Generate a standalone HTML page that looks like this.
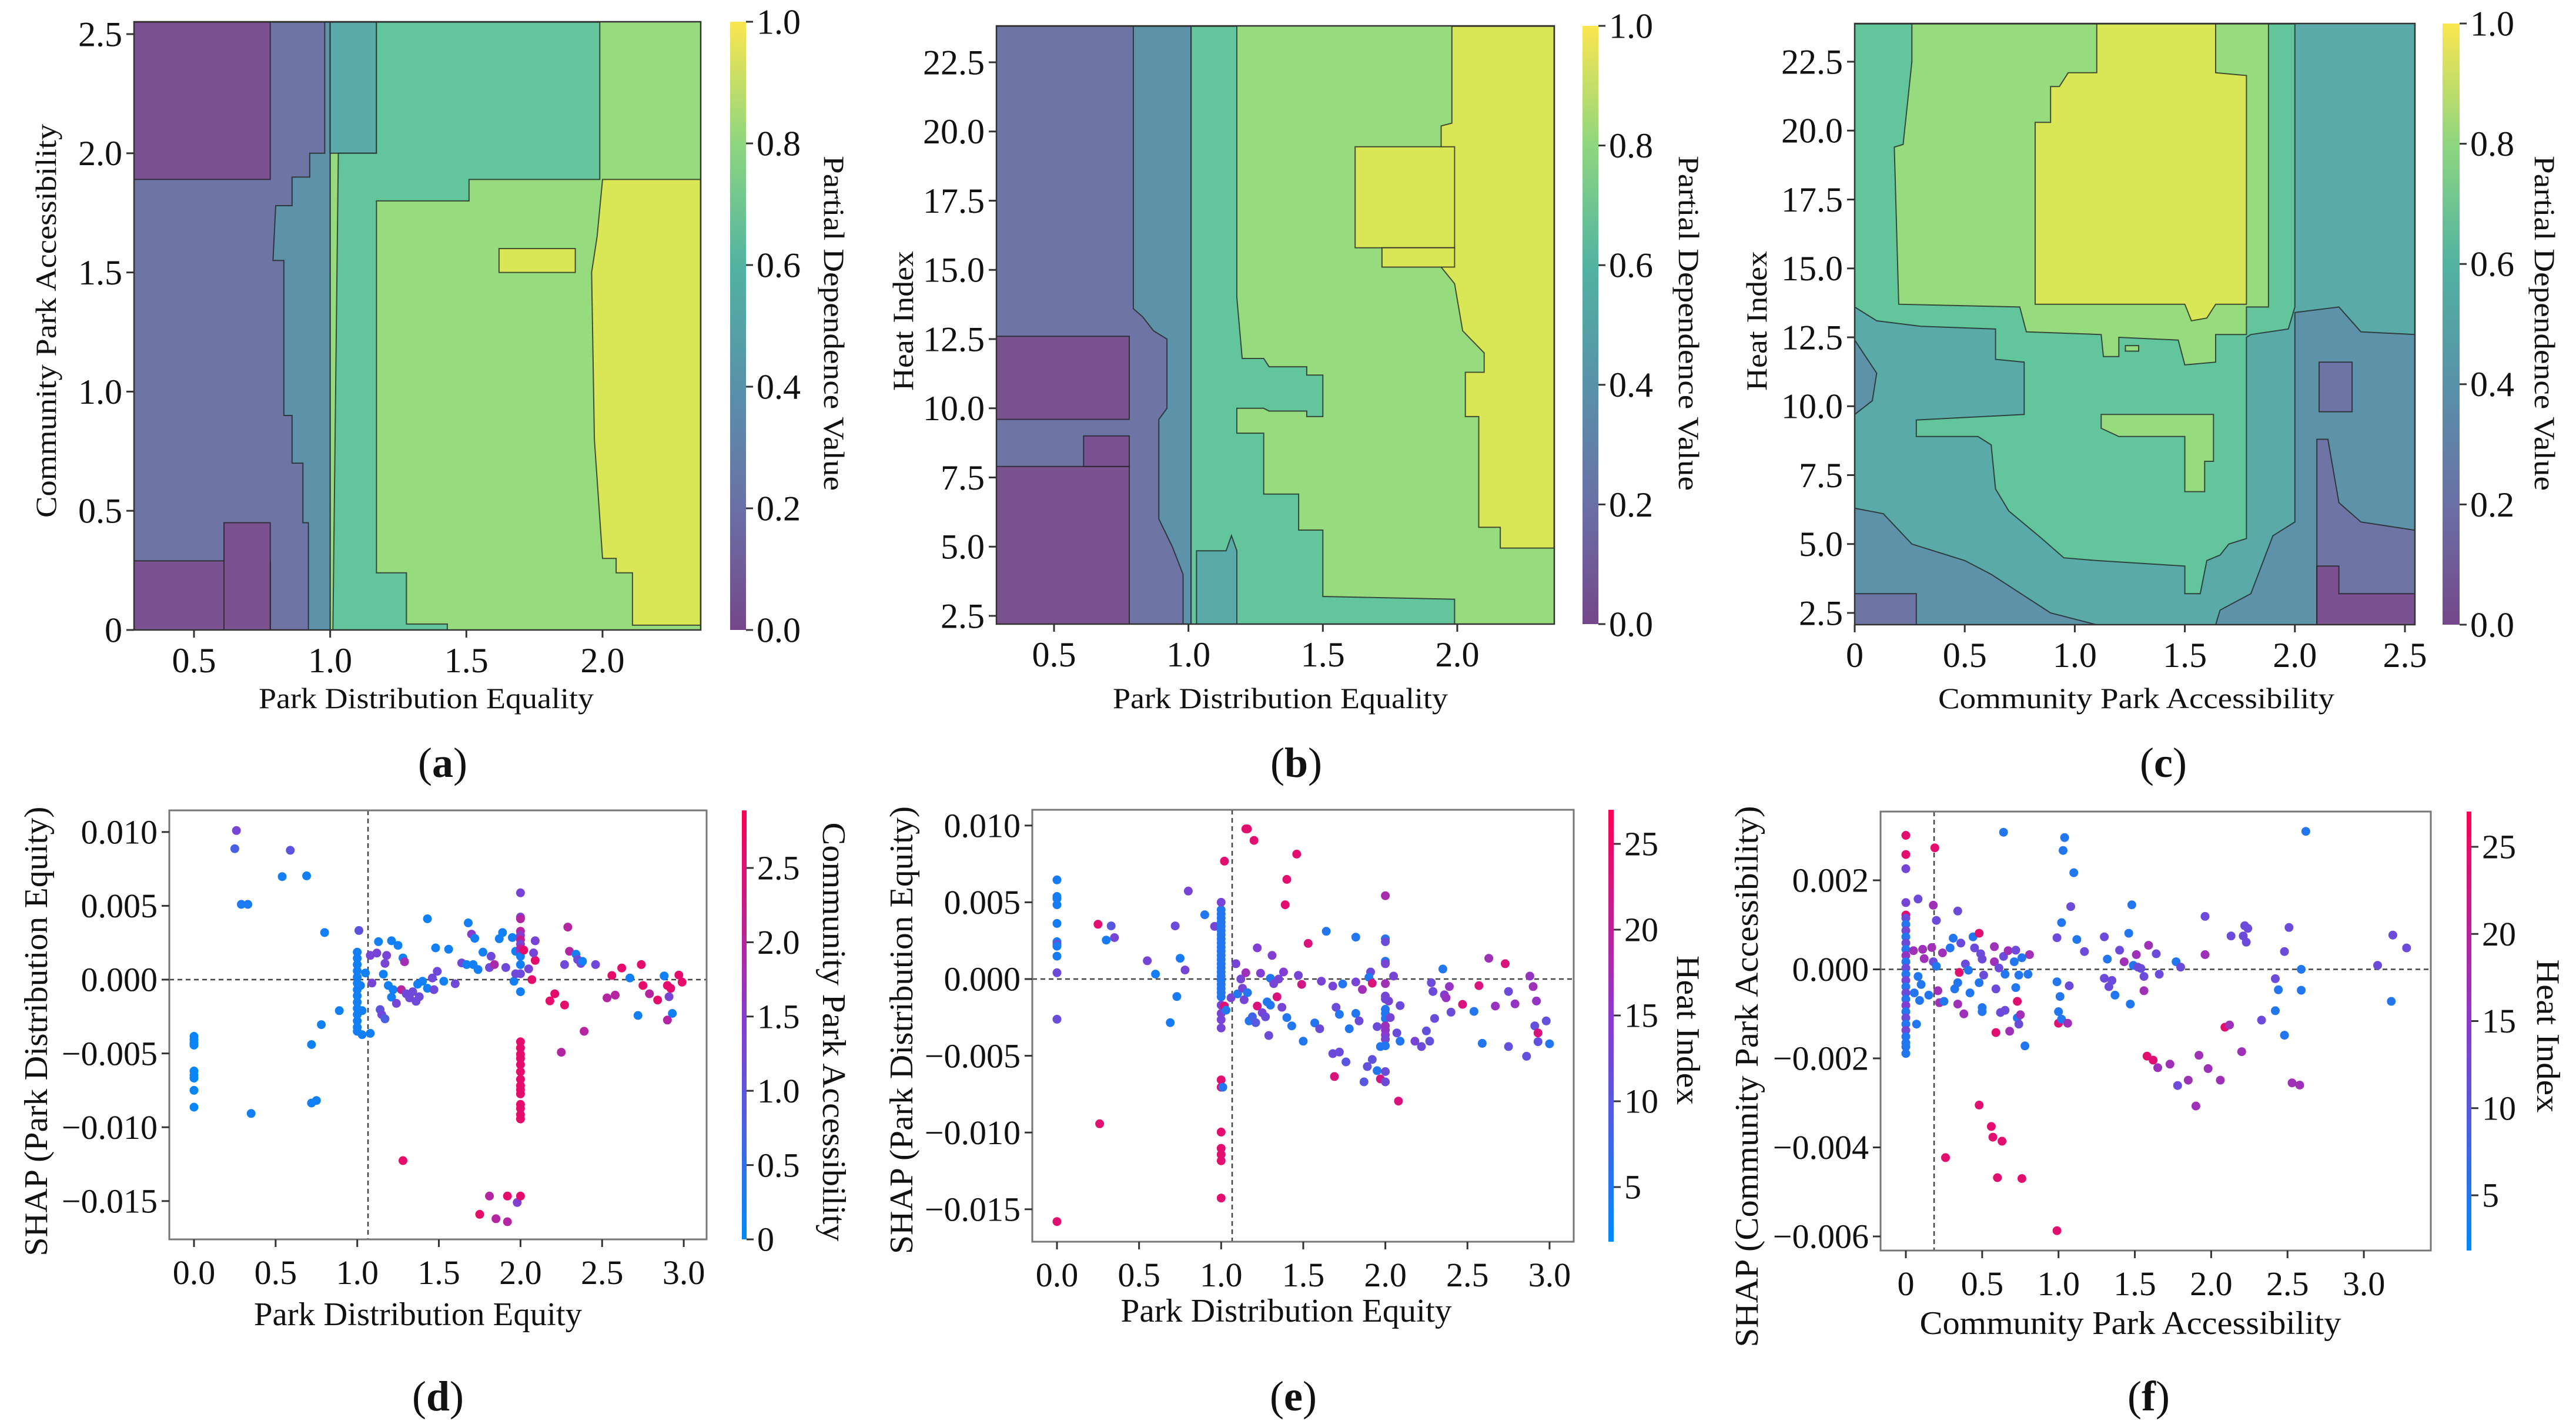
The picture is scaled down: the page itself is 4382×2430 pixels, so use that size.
<!DOCTYPE html>
<html><head><meta charset="utf-8"><style>
html,body{margin:0;padding:0;background:#fff;}
svg{display:block;font-family:"Liberation Serif",serif;}
</style></head><body>
<svg id="fig" xmlns="http://www.w3.org/2000/svg" width="4382" height="2430" viewBox="0 0 4382 2430">
<defs>
<linearGradient id="vir" x1="0" y1="1" x2="0" y2="0">
<stop offset="0" stop-color="#74478a"/><stop offset="0.2" stop-color="#6a70a6"/><stop offset="0.4" stop-color="#5892a9"/><stop offset="0.6" stop-color="#52b3a1"/><stop offset="0.8" stop-color="#8ed67f"/><stop offset="1" stop-color="#fbe64f"/>
</linearGradient>
<linearGradient id="rb" x1="0" y1="1" x2="0" y2="0">
<stop offset="0" stop-color="#008afa"/><stop offset="0.5" stop-color="#863cd2"/><stop offset="1" stop-color="#ff0052"/>
</linearGradient>
<clipPath id="clipA"><rect x="228" y="37" width="964" height="1035"/></clipPath>
<clipPath id="clipB"><rect x="1695" y="44" width="949" height="1018"/></clipPath>
<clipPath id="clipC"><rect x="3155" y="40" width="953" height="1023"/></clipPath>
</defs>
<g id="layer"></g>
<g font-size="50" fill="#111">
<text x="725" y="1205" text-anchor="middle" textLength="570" lengthAdjust="spacingAndGlyphs">Park Distribution Equality</text>
<text transform="translate(95,546) rotate(-90)" text-anchor="middle" textLength="670" lengthAdjust="spacingAndGlyphs">Community Park Accessibility</text>
<text transform="translate(1402,550) rotate(90)" text-anchor="middle" textLength="570" lengthAdjust="spacingAndGlyphs">Partial Dependence Value</text>
<text x="2178" y="1205" text-anchor="middle" textLength="570" lengthAdjust="spacingAndGlyphs">Park Distribution Equality</text>
<text transform="translate(1553,546) rotate(-90)" text-anchor="middle" textLength="238" lengthAdjust="spacingAndGlyphs">Heat Index</text>
<text transform="translate(2856,550) rotate(90)" text-anchor="middle" textLength="570" lengthAdjust="spacingAndGlyphs">Partial Dependence Value</text>
<text x="3634" y="1205" text-anchor="middle" textLength="674" lengthAdjust="spacingAndGlyphs">Community Park Accessibility</text>
<text transform="translate(3005,546) rotate(-90)" text-anchor="middle" textLength="238" lengthAdjust="spacingAndGlyphs">Heat Index</text>
<text transform="translate(4312,550) rotate(90)" text-anchor="middle" textLength="570" lengthAdjust="spacingAndGlyphs">Partial Dependence Value</text>

<text x="711" y="2255" text-anchor="middle" font-size="56" textLength="558" lengthAdjust="spacingAndGlyphs">Park Distribution Equity</text>
<text transform="translate(80,1755) rotate(-90)" text-anchor="middle" font-size="56" textLength="765" lengthAdjust="spacingAndGlyphs">SHAP (Park Distribution Equity)</text>
<text transform="translate(1400,1756) rotate(90)" text-anchor="middle" font-size="56" textLength="713" lengthAdjust="spacingAndGlyphs">Community Park Accessibility</text>
<text x="2188" y="2249" text-anchor="middle" font-size="56" textLength="563" lengthAdjust="spacingAndGlyphs">Park Distribution Equity</text>
<text transform="translate(1552,1753) rotate(-90)" text-anchor="middle" font-size="56" textLength="762" lengthAdjust="spacingAndGlyphs">SHAP (Park Distribution Equity)</text>
<text transform="translate(2853,1753) rotate(90)" text-anchor="middle" font-size="56" textLength="254" lengthAdjust="spacingAndGlyphs">Heat Index</text>
<text x="3624" y="2270" text-anchor="middle" font-size="56" textLength="717" lengthAdjust="spacingAndGlyphs">Community Park Accessibility</text>
<text transform="translate(2990,1832) rotate(-90)" text-anchor="middle" font-size="56" textLength="921" lengthAdjust="spacingAndGlyphs">SHAP (Community Park Accessibility)</text>
<text transform="translate(4316,1763) rotate(90)" text-anchor="middle" font-size="56" textLength="261" lengthAdjust="spacingAndGlyphs">Heat Index</text>
</g>
<g font-size="72" fill="#111" text-anchor="middle">
<text x="753" y="1322">(<tspan font-weight="bold">a</tspan>)</text>
<text x="2205" y="1322">(<tspan font-weight="bold">b</tspan>)</text>
<text x="3680" y="1322">(<tspan font-weight="bold">c</tspan>)</text>
<text x="745" y="2400">(<tspan font-weight="bold">d</tspan>)</text>
<text x="2200" y="2400">(<tspan font-weight="bold">e</tspan>)</text>
<text x="3655" y="2400">(<tspan font-weight="bold">f</tspan>)</text>
</g>
</svg>
<script>
function R(x0,x1,y0,y1){return [x0,y0,x1,y0,x1,y1,x0,y1];}
const LEVEL_COLORS=['#7a5290','#6e75a4','#5e92a8','#5aaaa9','#62c59c','#96db7e','#d9e655'];

// ---- contour regions (level index, polygon in data coords) ----
const aLevels=[5,1,2,3,4,0,0,0,6,6];
const aPolys=[
R(0.28,2.36,0,2.55),
R(0.28,1.0,0,2.55),
[0.92,0,1.0,0,1.0,2.55,0.98,2.55,0.98,2.0,0.925,2.0,0.925,1.9,0.86,1.9,0.86,1.78,0.8,1.78,0.79,1.55,0.83,1.55,0.83,0.9,0.86,0.9,0.86,0.7,0.9,0.7,0.9,0.45,0.92,0.45],
R(1.0,1.17,2.0,2.55),
[1.01,0,1.43,0,1.43,0.025,1.28,0.025,1.28,0.24,1.17,0.24,1.17,1.8,1.51,1.8,1.51,1.89,1.99,1.89,1.99,2.55,1.17,2.55,1.17,2.0,1.03,2.0],
R(0.28,0.78,1.89,2.55),
R(0.28,0.78,0,0.29),
R(0.61,0.78,0,0.45),
[2.0,1.89,2.36,1.89,2.36,0.02,2.11,0.02,2.11,0.24,2.05,0.24,2.05,0.3,2.0,0.3,1.97,0.8,1.96,1.5,1.98,1.65],
R(1.62,1.9,1.5,1.6)
];
const bLevels=[5,1,2,4,3,0,0,0,6,6,6];
const bPolys=[
R(0.285,2.36,2.2,23.8),
R(0.285,1.0,2.2,23.8),
[0.795,23.8,1.01,23.8,1.01,2.2,0.98,2.2,0.98,4,0.94,5,0.89,6,0.89,9.6,0.92,10,0.92,12.5,0.87,12.8,0.83,13.3,0.795,13.6],
[1.01,23.8,1.18,23.8,1.18,14,1.2,11.8,1.28,11.8,1.3,11.5,1.44,11.5,1.44,11.2,1.5,11.2,1.5,9.7,1.44,9.7,1.44,9.9,1.3,9.9,1.28,10,1.18,10,1.18,9.1,1.28,9.1,1.28,6.9,1.41,6.9,1.41,5.6,1.5,5.6,1.5,3.2,1.99,3.1,1.99,2.2,1.01,2.2],
[1.03,2.2,1.18,2.2,1.18,4.85,1.16,5.4,1.14,4.85,1.03,4.85],
R(0.285,0.78,9.6,12.6),
R(0.285,0.78,2.2,7.9),
R(0.61,0.78,7.9,9.0),
[1.94,19.5,1.94,20.2,1.98,20.3,1.98,23.8,2.36,23.8,2.36,4.95,2.16,4.95,2.16,5.7,2.08,5.7,2.08,9.7,2.03,9.7,2.03,11.3,2.1,11.3,2.1,12,2.02,12.8,1.99,14.5,1.94,15.1],
R(1.62,1.99,15.8,19.45),
R(1.72,1.99,15.1,15.8)
];
const cLevels=[3,4,2,2,2,1,1,1,0,5,5,5,6];
const cPolys=[
R(0,2.546,2.07,23.87),
[0,23.87,2.0,23.87,2.0,13.6,1.97,12.8,1.8,12.6,1.78,12.5,1.78,5.2,1.7,5.0,1.66,4.6,1.6,4.4,1.57,3.2,1.5,3.2,1.5,4.2,1.1,4.4,0.95,4.5,0.85,5.2,0.82,5.4,0.7,6.2,0.64,7.0,0.62,8.6,0.56,8.9,0.28,8.9,0.28,9.5,0.77,9.7,0.77,11.6,0.64,11.7,0.64,12.8,0.3,12.9,0.1,13.1,0,13.6],
[0,2.07,0,6.3,0.13,6.1,0.26,5.0,0.5,4.4,0.62,3.9,0.89,2.5,1.1,2.07],
[0,9.7,0.08,10.2,0.1,11.2,0,12.4],
[2.0,13.4,2.2,13.6,2.3,12.7,2.546,12.6,2.546,2.07,1.64,2.07,1.66,2.6,1.8,3.2,1.9,5.3,2.0,5.8],
R(0,0.28,2.07,3.2),
R(2.11,2.26,9.8,11.6),
[2.1,2.07,2.1,8.8,2.15,8.8,2.2,6.5,2.3,5.8,2.546,5.5,2.546,2.07],
[2.1,2.07,2.1,4.2,2.2,4.2,2.2,3.2,2.546,3.2,2.546,2.07],
[0.26,23.87,1.88,23.87,1.88,13.6,1.78,13.6,1.78,12.6,1.64,12.6,1.64,11.6,1.5,11.5,1.47,12.4,1.2,12.5,1.2,11.8,1.13,11.8,1.12,12.6,0.78,12.7,0.75,13.6,0.2,13.7,0.18,19.4,0.22,19.5,0.26,22.5],
[1.12,9.7,1.63,9.7,1.63,8.0,1.59,8.0,1.59,6.9,1.5,6.9,1.5,8.9,1.2,8.9,1.12,9.2],
R(1.23,1.29,12.0,12.2),
[0.82,13.7,1.5,13.7,1.53,13.1,1.6,13.2,1.64,13.7,1.78,13.7,1.78,22.0,1.64,22.1,1.64,23.87,1.1,23.87,1.1,22.1,0.97,22.1,0.93,21.6,0.89,21.6,0.89,20.3,0.82,20.3]
];

// ---- scatter data (d): Park Distribution Equity vs SHAP (x1e-3), color = Community Park Accessibility
const dX=[0,0,0,0,0,0,0,0,0,0.25,0.26,0.29,0.33,0.35,0.54,0.59,0.69,0.72,0.72,0.75,0.78,0.80,0.89,
1,1,1,1,1,1,1,1,1,1,1,1,1,1,
1.01,1.03,1.08,1.03,1.02,1.05,1.08,1.12,1.09,1.13,1.16,1.17,1.18,1.14,1.15,1.17,1.19,1.21,1.22,1.21,1.25,1.24,1.27,1.28,1.29,1.30,1.32,1.34,1.36,1.38,1.37,1.43,1.40,1.43,1.46,1.47,1.48,1.49,1.53,1.56,1.60,1.64,1.67,1.68,1.70,1.72,1.71,1.74,1.77,1.81,1.82,1.84,1.87,1.89,1.91,1.95,1.96,1.97,1.97,
2,2,2,2,2,2,2,2,2,2,2,2,2,
2,2,2,2,2,2,2,2,2,2,2,2,2,2,
2.02,2.05,2.07,2.09,2.08,2.09,2.18,2.21,2.25,2.27,2.27,2.29,2.30,2.34,2.35,2.37,2.38,2.39,2.46,2.53,2.56,2.58,2.62,2.67,2.72,2.74,2.75,2.79,2.84,2.88,2.90,2.91,2.90,2.92,2.93,2.97,2.99,
1.28,1.75,1.81,1.85,1.92,1.92,1.98,2.0];
const dY=[-3.84,-4.07,-4.3,-4.44,-6.19,-6.47,-6.67,-7.5,-8.64,8.87,10.1,5.1,5.1,-9.07,6.98,8.76,7.03,-4.4,-8.36,-8.19,-3.05,3.19,-2.1,
1.86,1.44,1.02,0.59,0.17,-0.25,-0.68,-1.1,-1.53,-1.95,-2.37,-2.8,-3.22,-3.5,
3.33,-3.73,-3.64,-2.1,-0.4,0.45,1.64,1.8,-0.23,2.57,0.37,1.1,1.64,-2.03,-2.37,-2.66,-0.4,-1.19,-0.68,2.63,2.32,-1.61,-0.68,1.47,1.21,-0.96,-1.24,-0.82,-1.47,-1.16,-0.31,4.12,-0.11,-0.59,0.11,-0.68,2.15,0.56,-0.11,2.06,-0.28,1.13,1.02,3.84,3.08,2.8,1.02,0.68,1.86,0.82,1.58,1.02,2.77,3.19,0.82,2.85,-0.11,1.92,0.4,
5.88,4.24,4.12,3.28,3.0,2.7,2.4,2.1,1.86,1.58,1.02,0.4,-0.82,
-4.21,-4.63,-5.06,-5.34,-5.76,-6.24,-6.75,-7.18,-7.46,-7.74,-8.45,-8.73,-9.15,-9.44,
2.0,0.73,0,1.3,1.81,2.63,-1.44,-0.96,-4.92,-1.72,1.02,3.56,1.92,1.72,1.36,1.1,1.24,-3.5,1.02,-1.24,0.28,-1.05,0.79,0.11,-2.43,1.02,-0.4,-0.96,-1.38,0.25,-0.4,-1.16,-2.74,-0.59,-2.29,0.31,-0.17,
-12.26,-15.9,-14.66,-16.2,-16.4,-14.66,-15.1,-14.66];
const dC=[0.1,0.1,0.1,0.1,0.1,0.1,0.1,0.1,0.1,0.8,1.3,0.3,0.3,0.2,0.2,1.0,0.2,0.2,0.2,0.2,0.2,0.2,0.2,
0.2,0.2,0.2,0.2,0.2,0.2,0.2,0.2,0.2,0.2,0.2,0.2,0.2,0.2,
1.0,0.2,0.2,0.2,0.2,0.2,1.3,1.3,1.3,0.2,0.2,1.3,1.3,1.0,1.2,0.8,0.2,0.2,0.2,0.2,0.2,1.3,2.0,0.2,1.8,1.2,1.2,1.2,1.2,1.2,0.2,0.2,0.2,0.2,1.2,1.2,0.2,1.2,0.2,0.2,1.2,1.2,0.2,0.2,1.5,0.2,0.2,0.2,0.2,1.2,1.2,1.9,0.2,0.2,1.2,0.2,0.2,0.2,1.2,
1.3,1.3,2.0,2.0,1.5,2.2,1.3,2.0,1.6,0.2,0.2,1.2,0.2,
2.6,2.6,2.6,2.6,2.6,2.6,2.6,2.6,2.6,2.6,2.6,2.6,2.6,2.6,
2.6,1.3,2.6,2.6,1.3,1.3,2.6,2.6,2.0,2.6,1.2,2.0,2.0,0.2,1.2,1.2,0.2,2.0,1.2,2.0,2.6,2.0,2.6,0.2,0.2,2.6,2.6,2.0,2.6,0.2,2.6,1.3,2.0,2.6,0.2,2.6,2.6,
2.6,2.6,2.0,2.0,2.0,2.6,1.4,2.6];

// ---- scatter data (e): Park Distribution Equity vs SHAP (x1e-3), color = Heat Index
const eX=[0,0,0,0,0,0,0,0,0,0,0,0,
0.25,0.26,0.30,0.33,0.35,0.55,0.60,0.69,0.72,0.73,0.75,0.78,0.80,0.90,0.96,
1,1,1,1,1,1,1,1,1,1,1,1,1,1,1,1,1,1,1,1,1,1,
1,1,1,1,1, 1,1,1,1,1,1,1, 1.01,
1.02,1.02,1.03,1.09,1.06,1.10,1.12,1.13,1.14,1.15,1.16,1.15,1.16,1.2,1.17,1.19,1.21,1.22,1.22,1.24,1.25,1.27,1.28,1.30,1.29,1.31,1.30,1.32,1.34,1.35,1.37,1.38,1.39,1.40,1.40,1.43,1.46,1.47,1.49,1.50,
1.53,1.57,1.60,1.61,1.64,1.68,1.68,1.69,1.70,1.72,1.72,1.74,1.76,1.78,1.82,1.82,1.82,1.84,1.86,1.87,1.89,1.92,1.91,1.90,1.92,1.95,1.95,1.97,1.97,
2,2,2,2,2,2,2,2,2,2,2,2,2,2,2,2,2,2,
2.05,2.02,2.03,2.07,2.08,2.09,2.09,2.18,2.22,2.25,2.27,2.28,2.29,2.30,2.35,2.36,2.37,2.39,2.40,2.47,2.54,2.57,2.59,2.63,2.67,2.73,2.75,2.75,2.79,2.86,2.88,2.90,2.91,2.92,2.93,2.93,2.98,3.0];
const eY=[6.46,5.38,5.24,4.84,3.62,2.43,2.27,2.14,1.49,0.41,-2.62,-15.8,
3.57,-9.43,2.54,3.46,2.7,1.19,0.32,-2.84,3.46,-1.14,1.35,0.59,5.73,4.19,3.43,
4.51,4.24,3.97,3.7,3.43,3.16,2.89,2.62,2.35,2.08,1.81,1.54,1.27,1.0,0.73,0.46,0.19,-0.08,-0.35,-0.62,-0.89,-1.16,
5.0,-1.7,-2.24,-2.65,-3.19, -6.57,-7.05,-9.97,-11.03,-11.43,-11.84,-14.27, -7.05,
7.68,-1.76,-2.03,1.0,-1.22,-0.97,0,-0.6,-1.35,0.41,-0.89,9.78,9.78,9.03,-2.73,-2.46,-2.84,2.03,-1.76,0.38,-2.19,-2.46,-1.49,-1.7,-3.68,1.54,0.05,-0.3,-1.16,0,-1.84,0.46,4.84,6.49,-2.51,-3.05,8.14,0.24,-0.35,-4.05,
2.32,-2.86,-3.24,-0.14,3.11,-0.46,-4.86,-6.35,-1.84,-4.76,-2.3,-0.32,-5.4,-3.24,-2.24,-0.19,2.73,-2.73,-0.68,-6.7,-5.7,-5.24,0.46,0.11,-0.27,-3.1,-5.97,-6.51,-4.4,
5.43,2.62,2.43,1.16,1.0,-0.3,-1.11,-1.3,-1.97,-2.24,-2.57,-3.05,-3.32,-3.65,-3.92,-4.35,-6.03,-6.7,
0.19,-1.43,-2.51,-3.51,-7.95,-1.73,-4.05,-4.05,-4.4,-3.38,-4.05,-0.24,-0.81,-2.57,0.65,-1.03,-1.22,-0.49,-2.16,-1.65,-2.11,-0.43,-4.19,1.35,-1.76,1.0,-4.4,-0.81,-1.62,-5.03,0.19,-0.49,-3.05,-1.43,-4.08,-3.51,-2.73,-4.22];
const eC=[4,4,4,4,4,4,12,4,4,12,12,24,
24,24,4,10,13,13,4,4,12,4,4,13,13,5,13,
5,5,5,5,5,5,5,5,5,5,5,5,5,5,5,5,5,5,5,5,5,5,
13,13,13,13,13, 24,24,24,24,24,24,24, 5,
24,24,5,13,13,5,13,13,13,17,5,24,24,24,5,8,10,14,23,14,13,12,5,5,12,14,5,13,23,13,13,14,24,24,5,5,24,13,22,5,
23,5,12,13,5,13,12,23,12,12,5,5,10,5,5,13,5,12,17,10,11,11,12,5,23,12,5,22,5,
18,5,12,5,13,17,13,13,5,5,5,17,16,15,13,5,12,12,
13,13,13,12,23,12,5,13,12,11,11,12,12,12,5,14,16,16,12,23,5,23,5,17,16,23,11,12,16,11,16,17,11,16,11,23,11,5];

// ---- scatter data (f): Community Park Accessibility vs SHAP (x1e-3), color = Heat Index
const fX=[0,0,0,0,0,
0,0,0,0,0,0,0,0,0,0,0,0,0,0,0,0,0,0,0,0,0,0,0,
0.05,0.055,0.07,0.08,0.08,0.09,0.1,0.11,0.12,0.15,0.17,0.18,0.18,0.19,0.2,0.2,0.21,0.22,0.24,0.25,0.26,0.29,0.31,0.32,0.34,0.34,0.34,0.35,0.36,0.38,0.39,0.41,0.42,0.44,0.45,0.48,0.48,0.48,0.49,0.5,0.5,0.5,0.51,0.56,0.57,0.58,0.58,0.59,0.59,0.6,0.61,0.62,0.63,0.64,0.64,0.65,0.65,0.67,0.68,0.71,0.72,0.72,0.73,0.73,0.74,0.75,0.74,0.76,0.76,0.78,0.8,0.81,
0.99,0.99,0.99,1.0,1.0,1.01,1.02,1.02,1.03,1.04,1.06,1.07,1.08,1.1,1.12,1.17,
1.30,1.30,1.32,1.33,1.35,1.37,1.40,1.43,1.46,1.47,1.48,1.49,1.51,1.52,1.54,1.56,1.56,1.58,1.59,1.62,1.64,1.65,1.66,1.73,1.77,1.78,1.80,1.85,1.90,1.92,1.96,1.96,1.98,2.06,2.09,2.12,2.13,2.2,2.21,2.22,2.24,2.23,2.33,2.42,2.42,2.44,2.48,2.48,2.51,2.53,2.58,2.59,2.59,2.62,3.09,3.18,3.19,3.28];
const fY=[3.01,2.58,1.22,2.26,1.5,
1.15,1.01,0.87,0.73,0.59,0.45,0.31,0.17,0.03,-0.11,-0.25,-0.39,-0.53,-0.67,-0.81,-0.95,-1.09,-1.23,-1.37,-1.51,-1.65,-1.74,-1.89,
0.42,-0.53,-1.23,-0.16,1.58,-0.7,-0.34,0.45,0.24,-0.58,0.49,1.44,0.17,2.73,1.1,0.07,-0.48,-0.75,0.37,-0.72,-4.23,0.48,0.7,-0.44,-0.3,-0.78,1.31,-0.07,0.59,-1.0,0.12,-0.02,-0.53,0.73,0.48,-0.3,0.81,-3.05,0.35,0.23,-0.86,-0.95,-0.13,-3.53,-3.77,0.51,0.17,-0.44,-1.42,-4.68,0.03,-0.97,-3.86,0.29,3.08,-0.11,-0.92,0.42,-1.39,0.17,0.43,-0.41,-0.72,-1.09,-1.23,-1.02,-0.13,0.26,-4.7,-1.72,-0.11,0.33,
-5.87,-0.28,0.71,-0.95,-1.21,-0.61,1.05,-1.12,2.67,2.96,-1.21,-0.37,1.41,2.17,0.67,0.4,
0.73,-0.2,0.23,-0.39,-0.25,-0.58,0.43,0.17,0.81,-0.78,1.45,0.09,0.33,0.05,0.02,-0.16,-0.48,-1.95,0.54,-2.04,0.35,-2.21,-0.11,-2.13,0.17,-2.61,0.05,-2.49,-3.07,-1.93,1.19,0.33,-2.23,-2.49,-1.3,-1.25,0.75,-1.85,0.75,0.98,0.92,0.61,-1.14,-0.21,-0.93,-0.46,-1.48,0.4,0.94,-2.55,-2.6,0,-0.47,3.1,0.09,-0.72,0.77,0.48];
const fC=[24,24,24,13,13,
12,5,13,5,12,5,16,5,12,5,13,5,12,5,14,5,12,5,13,5,5,5,5,
17,5,5,5,12,5,5,17,17,5,17,17,12,24,12,5,17,17,17,5,24,5,5,5,5,17,12,24,12,17,12,5,5,5,12,5,24,24,12,12,5,5,12,24,24,17,17,12,24,24,12,12,24,12,5,5,12,17,17,5,12,5,24,5,12,17,5,5,24,5,5,17,
24,5,12,5,24,5,5,5,5,5,17,12,12,5,5,12,
12,12,5,12,12,5,12,17,5,5,5,5,17,12,12,12,17,24,17,24,12,17,12,17,5,12,12,17,17,17,12,17,17,17,24,17,12,17,12,12,12,12,12,12,5,5,5,12,12,17,17,5,5,5,12,5,12,12];

// ---- ticks ----
const aXT=[0.5,1.0,1.5,2.0], aXL=['0.5','1.0','1.5','2.0'];
const aYT=[0,0.5,1.0,1.5,2.0,2.5], aYL=['0','0.5','1.0','1.5','2.0','2.5'];
const hiT=[2.5,5,7.5,10,12.5,15,17.5,20,22.5], hiL=['2.5','5.0','7.5','10.0','12.5','15.0','17.5','20.0','22.5'];
const cXT=[0,0.5,1.0,1.5,2.0,2.5], cXL=['0','0.5','1.0','1.5','2.0','2.5'];
const pdT=[0,0.2,0.4,0.6,0.8,1.0], pdL=['0.0','0.2','0.4','0.6','0.8','1.0'];
const sXT=[0,0.5,1,1.5,2,2.5,3], sXL=['0.0','0.5','1.0','1.5','2.0','2.5','3.0'];
const fXL=['0','0.5','1.0','1.5','2.0','2.5','3.0'];
const deYT=[10,5,0,-5,-10,-15], deYL=['0.010','0.005','0.000','\u22120.005','\u22120.010','\u22120.015'];
const fYT=[2,0,-2,-4,-6], fYL=['0.002','0.000','\u22120.002','\u22120.004','\u22120.006'];
const dCbT=[0,0.5,1,1.5,2,2.5], dCbL=['0','0.5','1.0','1.5','2.0','2.5'];
const hCbT=[5,10,15,20,25], hCbL=['5','10','15','20','25'];
const dRefX=1.066, eRefX=1.067, fRefX=0.185;

// ---- geometry ----
const P={
 a:{l:228,t:37,r:1192,b:1072,sx:v=>330+(v-0.5)*463.3,sy:v=>1072-v*405.6,cb:[1242,1269,37,1072],cbs:v=>1072-v*1035},
 b:{l:1695,t:44,r:2644,b:1062,sx:v=>1793+(v-0.5)*457.3,sy:v=>1048-(v-2.5)*47.1,cb:[2692,2719,44,1062],cbs:v=>1062-v*1018},
 c:{l:3155,t:40,r:4108,b:1063,sx:v=>3155+v*374.4,sy:v=>1043-(v-2.5)*46.9,cb:[4155,4184,40,1063],cbs:v=>1063-v*1023},
 d:{l:288,t:1379,r:1202,b:2109,sx:v=>330+v*277.7,sy:v=>1667-v*25.12,cb:[1262,1270,1379,2109],cbs:v=>2109-v*252.8},
 e:{l:1756,t:1378,r:2677,b:2113,sx:v=>1798+v*279.3,sy:v=>1666-v*26.12,cb:[2736,2745,1378,2113],cbs:v=>2020-(v-5)*29.2},
 f:{l:3199,t:1381,r:4135,b:2128,sx:v=>3242+v*259.7,sy:v=>1649.5-v*75.75,cb:[4196,4204,1381,2128],cbs:v=>2034-(v-5)*29.65}
};
const NS='http://www.w3.org/2000/svg';
const root=document.getElementById('layer');
function mk(tag,parent){const e=document.createElementNS(NS,tag);(parent||root).appendChild(e);return e;}
function lerp(a,b,t){return Math.round(a+(b-a)*t);}
function rbColor(t){t=Math.max(0,Math.min(1,t));const s=[[0,138,250],[134,60,210],[255,0,82]];let i=t<0.5?0:1,u=t<0.5?t/0.5:(t-0.5)/0.5;return 'rgb('+lerp(s[i][0],s[i+1][0],u)+','+lerp(s[i][1],s[i+1][1],u)+','+lerp(s[i][2],s[i+1][2],u)+')';}

function contour(key,levels,polys,clip){
 const p=P[key];const g=mk('g');g.setAttribute('clip-path','url(#'+clip+')');
 
 
 polys.forEach((pts,i)=>{
  const s=[];for(let k=0;k<pts.length;k+=2)s.push(p.sx(pts[k]).toFixed(1)+','+p.sy(pts[k+1]).toFixed(1));
  const pg=mk('polygon',g);pg.setAttribute('points',s.join(' '));pg.setAttribute('fill',LEVEL_COLORS[levels[i]]);
  if(i>0){pg.setAttribute('stroke','rgba(30,30,30,0.75)');pg.setAttribute('stroke-width','2');}
  
  
 });
}
function frame(key,stroke,sw){
 const p=P[key];const r=mk('rect');r.setAttribute('x',p.l);r.setAttribute('y',p.t);r.setAttribute('width',p.r-p.l);r.setAttribute('height',p.b-p.t);
 r.setAttribute('fill','none');r.setAttribute('stroke',stroke);r.setAttribute('stroke-width',sw);
 
 
}
function axes(key,xt,xl,yt,yl,fs,xoff){
 const p=P[key];
 xt.forEach((v,i)=>{const x=p.sx(v);
  const l=mk('line');l.setAttribute('x1',x);l.setAttribute('x2',x);l.setAttribute('y1',p.b);l.setAttribute('y2',p.b+13);l.setAttribute('stroke','#333');l.setAttribute('stroke-width','3');
  
  
  const t=mk('text');t.setAttribute('x',x);t.setAttribute('y',p.b+xoff);t.setAttribute('text-anchor','middle');t.setAttribute('font-size',fs);t.setAttribute('fill','#111');t.textContent=xl[i];
  
  
 });
 yt.forEach((v,i)=>{const y=p.sy(v);
  const l=mk('line');l.setAttribute('x1',p.l-13);l.setAttribute('x2',p.l);l.setAttribute('y1',y);l.setAttribute('y2',y);l.setAttribute('stroke','#333');l.setAttribute('stroke-width','3');
  
  
  const t=mk('text');t.setAttribute('x',p.l-20);t.setAttribute('y',y+fs*0.34);t.setAttribute('text-anchor','end');t.setAttribute('font-size',fs);t.setAttribute('fill','#111');t.textContent=yl[i];
  
  
 });
}
function colorbar(key,grad,ticks,labels,fs){
 const p=P[key],c=p.cb;
 const r=mk('rect');r.setAttribute('x',c[0]);r.setAttribute('y',c[2]);r.setAttribute('width',c[1]-c[0]);r.setAttribute('height',c[3]-c[2]);r.setAttribute('fill','url(#'+grad+')');
 
 
 ticks.forEach((v,i)=>{const y=p.cbs(v);
  const l=mk('line');l.setAttribute('x1',c[1]);l.setAttribute('x2',c[1]+12);l.setAttribute('y1',y);l.setAttribute('y2',y);l.setAttribute('stroke','#333');l.setAttribute('stroke-width','3');
  
  
  const t=mk('text');t.setAttribute('x',c[1]+18);t.setAttribute('y',y+fs*0.34);t.setAttribute('font-size',fs);t.setAttribute('fill','#111');t.textContent=labels[i];
  
  
 });
}
function scatter(key,xs,ys,cs,cmin,cmax,refX){
 const p=P[key];
 const h=mk('line');h.setAttribute('x1',p.l);h.setAttribute('x2',p.r);h.setAttribute('y1',p.sy(0));h.setAttribute('y2',p.sy(0));h.setAttribute('stroke','#444');h.setAttribute('stroke-width','2.5');h.setAttribute('stroke-dasharray','8 6');
 
 
 const v=mk('line');v.setAttribute('x1',p.sx(refX));v.setAttribute('x2',p.sx(refX));v.setAttribute('y1',p.t);v.setAttribute('y2',p.b);v.setAttribute('stroke','#444');v.setAttribute('stroke-width','2.5');v.setAttribute('stroke-dasharray','8 6');
 
 
 const n=Math.min(xs.length,ys.length,cs.length);
 for(let i=0;i<n;i++){
  const c=mk('circle');c.setAttribute('cx',p.sx(xs[i]).toFixed(1));c.setAttribute('cy',p.sy(ys[i]).toFixed(1));c.setAttribute('r','7.5');
  c.setAttribute('fill',rbColor((cs[i]-cmin)/(cmax-cmin)));
  
  
 }
}

contour('a',aLevels,aPolys,'clipA');
contour('b',bLevels,bPolys,'clipB');
contour('c',cLevels,cPolys,'clipC');
['a','b','c'].forEach(k=>frame(k,'#333','2.5'));
axes('a',aXT,aXL,aYT,aYL,60,72);
axes('b',aXT,aXL,hiT,hiL,60,72);
axes('c',cXT,cXL,hiT,hiL,60,72);
colorbar('a','vir',pdT,pdL,60);
colorbar('b','vir',pdT,pdL,60);
colorbar('c','vir',pdT,pdL,60);

scatter('d',dX,dY,dC,0,2.9,dRefX);
scatter('e',eX,eY,eC,1.8,27,eRefX);
scatter('f',fX,fY,fC,1.8,27,fRefX);
['d','e','f'].forEach(k=>frame(k,'#777','3'));
axes('d',sXT,sXL,deYT,deYL,58,76);
axes('e',sXT,sXL,deYT,deYL,58,76);
axes('f',sXT,fXL,fYT,fYL,58,76);
colorbar('d','rb',dCbT,dCbL,58);
colorbar('e','rb',hCbT,hCbL,58);
colorbar('f','rb',hCbT,hCbL,58);
</script>
</body></html>
